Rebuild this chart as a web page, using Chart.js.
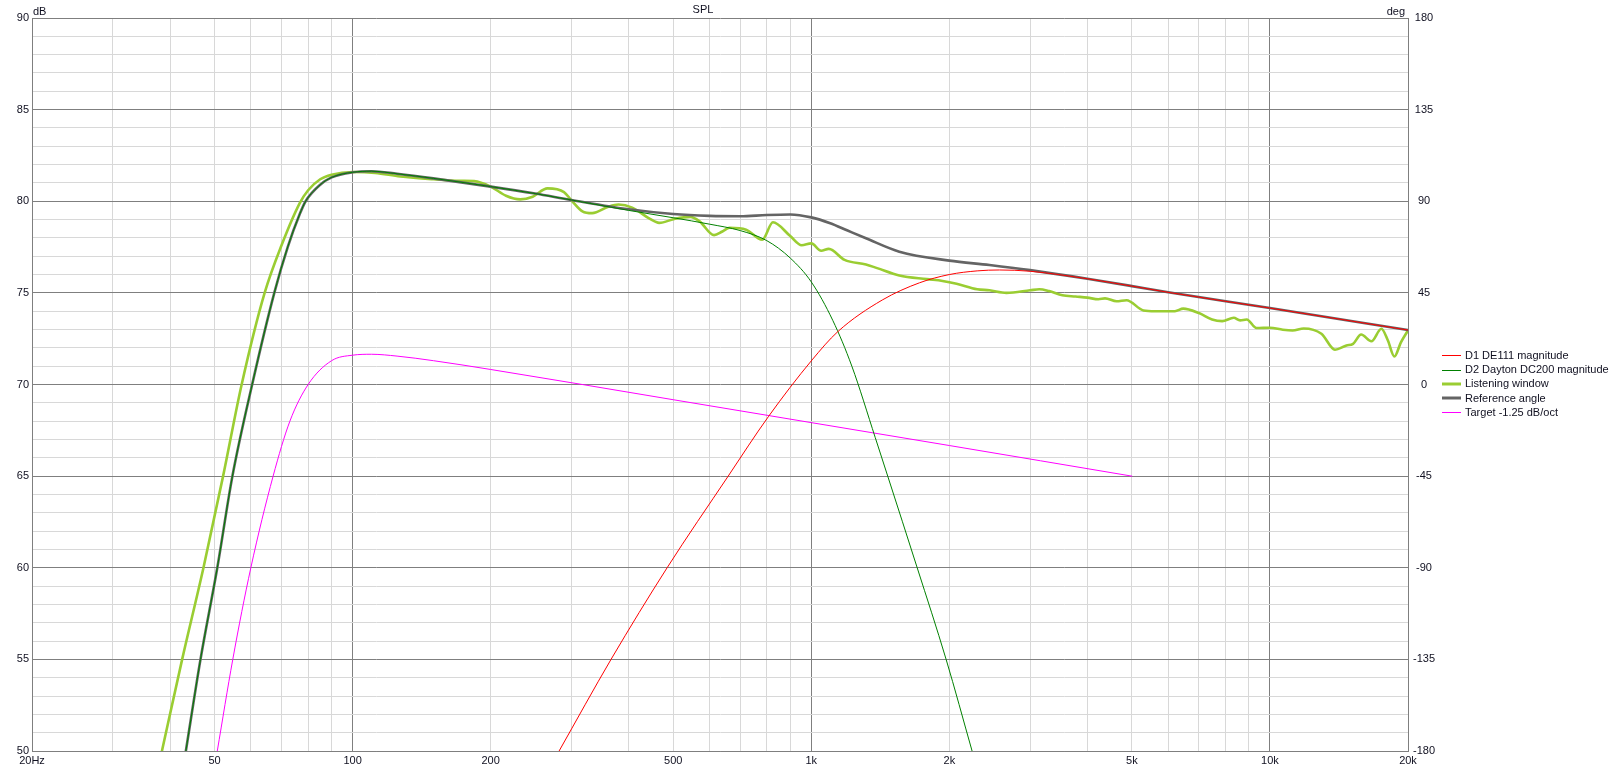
<!DOCTYPE html>
<html><head><meta charset="utf-8">
<script src="https://cdn.jsdelivr.net/npm/chart.js@4.4.0/dist/chart.umd.min.js"></script>
<style>html,body{margin:0;padding:0;background:#fff;overflow:hidden}canvas{display:block}</style>
</head><body>
<canvas id="c" width="1619" height="769"></canvas>
<script>
// ---- data ----
const xGridValues = [20,30,40,50,60,70,80,90,100,200,300,400,500,600,700,800,900,1000,2000,3000,4000,5000,6000,7000,8000,9000,10000,20000];
const xMajorValues = [20,100,1000,10000,20000];
const xLabelValues = [20,50,100,200,500,1000,2000,5000,10000,20000];
const xLabelTexts = ['20Hz','50','100','200','500','1k','2k','5k','10k','20k'];
const yLeftLabels = [50,55,60,65,70,75,80,85,90];
const yRightLabels = [-180,-135,-90,-45,0,45,90,135,180];
const seriesNames = ['D1 DE111 magnitude','D2 Dayton DC200 magnitude','Listening window','Reference angle','Target -1.25 dB/oct'];

const d1Freq = [282,366,485,659,806,1004,1142,1428,1722,2000,2300,2572,3000,4000,5000,6000,10000,20000];
const d1Db   = [50,55,60,65,68.24,71.34,72.88,74.61,75.55,76.0,76.2,76.25,76.18,75.77,75.37,75.03,74.17,72.97];

const d2Freq = [43.3,46.6,50.7,54.7,60.4,67.5,72.2,76.7,79,85,90,100,110,125,150,200,250,300,400,500,600,700,800,900,1000,1114,1226,1379,1468,1702,1968,2242];
const d2Db   = [50,55,60,65,70,75,77.5,79.3,80,80.9,81.3,81.58,81.64,81.5,81.25,80.8,80.42,80.07,79.5,79.1,78.75,78.4,77.85,76.9,75.6,73.5,71.0,67.1,65,60,55,50];

const lwFreq = [38.4,42.5,47.3,52.2,57.3,64.3,70,76.7,80,85,90,100,112,127,150,172,184,200,216,232,247,266,289,300,317,333,361,380,407,444,466,505,545,571,614,640,664,721,782,825,900,953,1000,1051,1092,1182,1316,1392,1556,1786,1933,2074,2300,2446,2664,3000,3142,3300,3527,3770,4000,4228,4370,4631,4868,5300,5620,6208,6470,7000,7480,7867,8340,8610,8900,9350,10000,10670,11200,11850,12950,13860,14680,15180,15810,16640,17500,18080,18680,19300,20000];
const lwDb   = [50,55,60,65,70,75,77.6,79.9,80.6,81.2,81.45,81.6,81.55,81.35,81.2,81.12,81.1,80.8,80.3,80.1,80.25,80.7,80.5,80.05,79.45,79.35,79.7,79.82,79.65,79.05,78.82,79.05,79.15,78.9,78.15,78.35,78.55,78.45,77.9,78.85,78.1,77.6,77.7,77.3,77.4,76.8,76.55,76.35,75.95,75.75,75.65,75.5,75.2,75.14,75.0,75.14,75.2,75.1,74.87,74.8,74.74,74.65,74.7,74.54,74.6,74.04,74.0,74.0,74.14,73.9,73.55,73.46,73.64,73.5,73.55,73.08,73.1,72.99,72.95,73.06,72.77,71.9,72.13,72.22,72.73,72.36,73.04,72.4,71.53,72.3,72.95];

const refFreq = [43.3,46.6,50.7,54.7,60.4,67.5,72.2,76.7,79,85,90,100,110,125,150,200,250,300,400,500,600,700,800,900,1000,1100,1200,1316,1556,2000,2446,3000,4000,5000,6000,10000,20000];
const refDb   = [50,55,60,65,70,75,77.5,79.3,80,80.9,81.3,81.58,81.64,81.5,81.25,80.8,80.42,80.07,79.56,79.3,79.2,79.18,79.25,79.28,79.12,78.8,78.4,77.98,77.25,76.76,76.52,76.24,75.77,75.37,75.03,74.17,72.97];

const tgtFreq = [50.7,54.8,60,67.1,73,80,90,100,110,125,150,200,500,1000,2000,5000];
const tgtDb   = [50,55,60,65,68.0,70,71.3,71.6,71.65,71.55,71.3,70.82,69.17,67.92,66.67,65.0];

// ---- build ----
const pts = (fs, ds) => fs.map((f, i) => ({x: f, y: ds[i]}));
const FONT = {family: '"Liberation Sans", Arial, sans-serif', size: 11};
const TXT = '#101020';
const MAJOR = '#7f7f7f', MINOR = '#d8d8d8';

const common = {pointRadius: 0, fill: false, cubicInterpolationMode: 'monotone', borderJoinStyle: 'round', borderCapStyle: 'round'};
const datasets = [
  Object.assign({label: seriesNames[0], data: pts(d1Freq, d1Db), borderColor: '#ff0000', borderWidth: 1, order: 0}, common),
  Object.assign({label: seriesNames[1], data: pts(d2Freq, d2Db), borderColor: '#008000', borderWidth: 1, order: 1}, common),
  Object.assign({label: seriesNames[2], data: pts(lwFreq, lwDb), borderColor: '#9acd32', borderWidth: 2.6, order: 3}, common),
  Object.assign({label: seriesNames[3], data: pts(refFreq, refDb), borderColor: '#646464', borderWidth: 2.6, order: 2}, common),
  Object.assign({label: seriesNames[4], data: pts(tgtFreq, tgtDb), borderColor: '#ff00ff', borderWidth: 1, order: 4}, common)
];

const overlay = {
  id: 'overlay',
  afterDraw(chart) {
    const ctx = chart.ctx, a = chart.chartArea;
    ctx.save();
    ctx.font = '11px "Liberation Sans", Arial, sans-serif';
    ctx.fillStyle = TXT;
    ctx.textBaseline = 'alphabetic';
    ctx.textAlign = 'left';  ctx.fillText('dB', a.left + 1, 15);
    ctx.textAlign = 'right'; ctx.fillText('deg', a.right - 3, 15);
    ctx.textAlign = 'center'; ctx.fillText('SPL', 703, 13);
    // legend
    const rowH = 14.2, y0 = (a.top + a.bottom) / 2 - 2 * rowH - 0.7;
    chart.data.datasets.forEach((ds, i) => {
      const y = y0 + i * rowH;
      ctx.beginPath();
      ctx.strokeStyle = ds.borderColor;
      ctx.lineWidth = ds.borderWidth > 1.5 ? 3 : 1;
      const yy = ds.borderWidth > 1.5 ? Math.round(y) : Math.round(y) + 0.5;
      ctx.moveTo(1442, yy); ctx.lineTo(1461, yy); ctx.stroke();
      ctx.fillStyle = TXT; ctx.textAlign = 'left'; ctx.textBaseline = 'middle';
      ctx.fillText(ds.label, 1465, y + 0.5);
    });
    ctx.restore();
  }
};

new Chart(document.getElementById('c'), {
  type: 'line',
  data: {datasets},
  options: {
    responsive: false, animation: false, parsing: true,
    layout: {padding: {top: 18, left: 0, right: 0, bottom: 0}},
    plugins: {legend: {display: false}, tooltip: {enabled: false}, title: {display: false}},
    scales: {
      x: {
        type: 'logarithmic', position: 'bottom', min: 20, max: 20000,
        afterBuildTicks: s => { s.ticks = xGridValues.map(v => ({value: v})); },
        afterFit: s => { s.height = 18; },
        ticks: {autoSkip: false, maxRotation: 0, minRotation: 0, padding: 3, color: TXT, font: FONT,
          callback: (v) => { const k = xLabelValues.indexOf(v); return k >= 0 ? xLabelTexts[k] : ''; }},
        grid: {drawTicks: false, lineWidth: 1, color: c => (c.tick && xMajorValues.includes(c.tick.value)) ? MAJOR : MINOR},
        border: {display: true, color: MAJOR, width: 1}
      },
      y: {
        type: 'linear', position: 'left', min: 50, max: 90,
        afterFit: s => { s.width = 32; },
        ticks: {stepSize: 1, autoSkip: false, padding: 3, color: TXT, font: FONT,
          callback: v => yLeftLabels.includes(v) ? String(v) : ''},
        grid: {drawTicks: false, lineWidth: 1, color: c => (c.tick && yLeftLabels.includes(c.tick.value)) ? MAJOR : MINOR},
        border: {display: true, color: MAJOR, width: 1}
      },
      y2: {
        type: 'linear', position: 'right', min: -180, max: 180,
        afterBuildTicks: s => { s.ticks = yRightLabels.map(v => ({value: v})); },
        afterFit: s => { s.width = 211; },
        ticks: {autoSkip: false, padding: 5, crossAlign: 'center', color: TXT, font: FONT,
          callback: v => String(v)},
        grid: {display: false, drawTicks: false},
        border: {display: true, color: MAJOR, width: 1}
      }
    }
  },
  plugins: [overlay]
});
</script>
</body></html>
